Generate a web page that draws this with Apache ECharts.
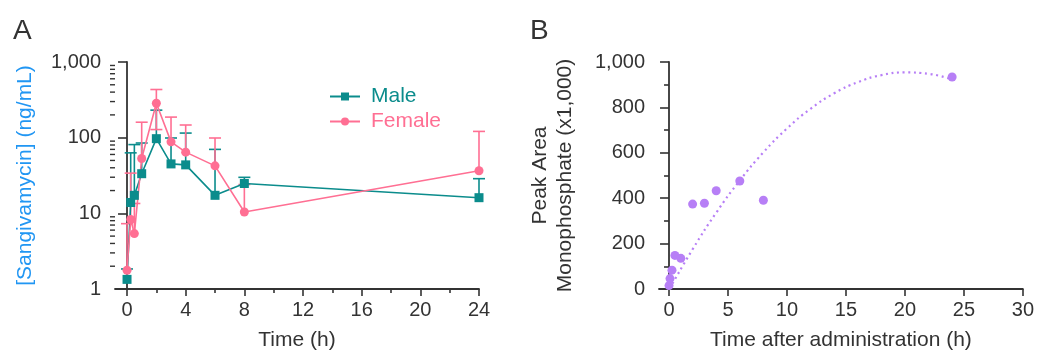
<!DOCTYPE html>
<html>
<head>
<meta charset="utf-8">
<script src="https://cdn.jsdelivr.net/npm/echarts@6/dist/echarts.min.js"></script>
<style>
  html, body { margin: 0; padding: 0; background: #fff; }
  #main { width: 1037px; height: 356px; }
</style>
</head>
<body>
<div id="main"></div>
<script>
// panel A - plasma concentration (mean + upper SD)
const TIME_H = [0, 0.25, 0.5, 1, 2, 3, 4, 6, 8, 24]
const MALE_MEAN = [1.34, 13.9, 17.3, 33.4, 97, 45, 43.7, 17.3, 24.8, 16.1]
const MALE_UPPER = [1.84, 63, 81, 85, 231, 99, 115, 70, 29.9, 28.7]
const FEMALE_MEAN = [1.77, 8.3, 5.4, 53, 285, 88, 64.4, 42.4, 10.4, 36.5]
const FEMALE_UPPER = [7.3, 34, 13.5, 160, 433, 187, 147, 99, 24, 121]
const FEMALE_LOWER = [1.77, 8.3, 5.4, 53, 128, 88, 64.4, 42.4, 10.4, 36.5]

// panel B - monophosphate peak area
const B_TIME = [0, 0.083, 0.25, 0.5, 1, 2, 3, 4, 6, 8, 24]
const B_AREA = [15, 46, 83, 148, 135, 374, 378, 433, 476, 391, 934]
const TREND_X = [0.3, 2, 4, 6, 8, 10, 12, 14, 16, 18, 20, 22, 24]
const TREND_Y = [24, 175, 336, 478, 602, 707, 794, 862, 911, 942, 954, 948, 923]

// tick labels / positions
const A_X_TICKS = [0, 4, 8, 12, 16, 20, 24]
const A_X_MINOR = [2, 6, 10, 14, 18, 22]
const A_Y_MINOR = [2, 3, 4, 5, 6, 7, 8, 9, 20, 30, 40, 50, 60, 70, 80, 90, 200, 300, 400, 500, 600, 700, 800, 900]
const B_X_TICKS = [0, 5, 10, 15, 20, 25, 30]

const TEAL = "#0B8C8C"
const PINK = "#FF6F93"
const PURPLE = "#B77FF6"
const BLUE = "#2196F3"
const INK = "#333333"
const FONT = "Liberation Sans, Arial, sans-serif"

const A_XMIN = -0.82
const B_XMIN = -0.85

const chart = echarts.init(document.getElementById("main"))

const axisLine = { show: true, lineStyle: { color: INK, width: 1.8 } }
const tickStyle = { color: INK, width: 1.6 }

// error bar: value = [t, mean, low, high]
const errorBar = color => (params, api) => {
  const t = api.value(0)
  const mean = api.value(1)
  const lo = api.value(2)
  const hi = api.value(3)
  const pLo = api.coord([t, lo])
  const pHi = api.coord([t, hi])
  const w = 6
  const style = { stroke: color, lineWidth: 1.6 }
  const children = [
    { type: "line", shape: { x1: pLo[0], y1: pLo[1], x2: pHi[0], y2: pHi[1] }, style },
    { type: "line", shape: { x1: pHi[0] - w, y1: pHi[1], x2: pHi[0] + w, y2: pHi[1] }, style },
  ]
  if (lo < mean) {
    children.push({ type: "line", shape: { x1: pLo[0] - w, y1: pLo[1], x2: pLo[0] + w, y2: pLo[1] }, style })
  }
  return { type: "group", children }
}

const option = {
  backgroundColor: "#fff",
  animation: false,
  textStyle: { fontFamily: FONT },
  title: [
    { text: "A", left: 8, top: 12, textStyle: { fontSize: 28, fontWeight: "normal", color: INK, fontFamily: FONT } },
    { text: "B", left: 525, top: 12, textStyle: { fontSize: 28, fontWeight: "normal", color: INK, fontFamily: FONT } },
  ],
  legend: {
    left: 329,
    top: 86,
    padding: 0,
    orient: "vertical",
    itemWidth: 30,
    itemHeight: 10,
    itemGap: 4,
    textStyle: { fontSize: 21, fontFamily: FONT, padding: [0, 0, 0, 6] },
    data: [
      { name: "Male", textStyle: { color: TEAL } },
      { name: "Female", textStyle: { color: PINK } },
    ],
  },
  grid: [
    { left: 115, top: 62, width: 364, height: 231 },
    { left: 659, top: 62, width: 364, height: 231 },
  ],
  xAxis: [
    {
      type: "value",
      gridIndex: 0,
      min: A_XMIN,
      max: 24,
      position: "bottom",
      name: "Time (h)",
      nameLocation: "middle",
      nameGap: 41,
      nameTextStyle: { fontSize: 21, color: INK, fontFamily: FONT },
      axisLine,
      axisTick: { show: true, length: 7, lineStyle: tickStyle, customValues: A_X_TICKS },
      axisLabel: { fontSize: 20, color: INK, margin: 11, fontFamily: FONT, customValues: A_X_TICKS },
      splitLine: { show: false },
    },
    {
      type: "value",
      gridIndex: 0,
      min: A_XMIN,
      max: 24,
      position: "bottom",
      axisLine: { show: false },
      axisTick: { show: true, length: 4, lineStyle: tickStyle, customValues: A_X_MINOR },
      axisLabel: { show: false },
      splitLine: { show: false },
    },
    {
      type: "value",
      gridIndex: 1,
      min: B_XMIN,
      max: 30,
      position: "bottom",
      name: "Time after administration (h)",
      nameLocation: "middle",
      nameGap: 41,
      nameTextStyle: { fontSize: 21, color: INK, fontFamily: FONT },
      axisLine,
      axisTick: { show: true, length: 7, lineStyle: tickStyle, customValues: B_X_TICKS },
      axisLabel: { fontSize: 20, color: INK, margin: 11, fontFamily: FONT, customValues: B_X_TICKS },
      splitLine: { show: false },
    },
  ],
  yAxis: [
    {
      type: "log",
      gridIndex: 0,
      logBase: 10,
      min: 1,
      max: 1000,
      name: "[Sangivamycin] (ng/mL)",
      nameLocation: "middle",
      nameGap: 79,
      nameTextStyle: { fontSize: 21, color: BLUE, fontFamily: FONT },
      axisLine,
      axisTick: { show: true, length: 9, lineStyle: tickStyle },
      axisLabel: {
        fontSize: 20,
        color: INK,
        margin: 14,
        fontFamily: FONT,
        formatter: v => Number(v).toLocaleString("en-US"),
      },
      splitLine: { show: false },
    },
    {
      type: "value",
      gridIndex: 1,
      min: 0,
      max: 1000,
      interval: 200,
      name: "Peak Area\nMonophosphate (x1,000)",
      nameLocation: "middle",
      nameGap: 81,
      nameTextStyle: { fontSize: 21, color: INK, lineHeight: 25, fontFamily: FONT },
      axisLine,
      axisTick: { show: true, length: 9, lineStyle: tickStyle },
      minorTick: { show: true, splitNumber: 2, length: 5, lineStyle: tickStyle },
      axisLabel: {
        fontSize: 20,
        color: INK,
        margin: 14,
        fontFamily: FONT,
        formatter: v => Number(v).toLocaleString("en-US"),
      },
      splitLine: { show: false },
    },
  ],
  series: [
    {
      // log minor ticks on panel A y axis
      name: "minorTicks",
      type: "custom",
      xAxisIndex: 0,
      yAxisIndex: 0,
      silent: true,
      clip: false,
      data: A_Y_MINOR.map(v => [A_XMIN, v]),
      renderItem: (params, api) => {
        const p = api.coord([api.value(0), api.value(1)])
        return {
          type: "line",
          shape: { x1: p[0] - 5, y1: p[1], x2: p[0], y2: p[1] },
          style: { stroke: INK, lineWidth: 1.4 },
        }
      },
    },
    {
      name: "Male SD",
      type: "custom",
      xAxisIndex: 0,
      yAxisIndex: 0,
      z: 1,
      data: TIME_H.map((t, i) => [t, MALE_MEAN[i], MALE_MEAN[i], MALE_UPPER[i]]),
      renderItem: errorBar(TEAL),
    },
    {
      name: "Female SD",
      type: "custom",
      xAxisIndex: 0,
      yAxisIndex: 0,
      z: 1,
      data: TIME_H.map((t, i) => [t, FEMALE_MEAN[i], FEMALE_LOWER[i], FEMALE_UPPER[i]]),
      renderItem: errorBar(PINK),
    },
    {
      name: "Male",
      type: "line",
      xAxisIndex: 0,
      yAxisIndex: 0,
      z: 3,
      data: TIME_H.map((t, i) => [t, MALE_MEAN[i]]),
      symbol: "rect",
      symbolSize: 9,
      color: TEAL,
      lineStyle: { width: 1.6, color: TEAL },
      itemStyle: { color: TEAL },
    },
    {
      name: "Female",
      type: "line",
      xAxisIndex: 0,
      yAxisIndex: 0,
      z: 3,
      data: TIME_H.map((t, i) => [t, FEMALE_MEAN[i]]),
      symbol: "circle",
      symbolSize: 9,
      color: PINK,
      lineStyle: { width: 1.6, color: PINK },
      itemStyle: { color: PINK },
    },
    {
      name: "trend",
      type: "line",
      xAxisIndex: 2,
      yAxisIndex: 1,
      data: TREND_X.map((x, i) => [x, TREND_Y[i]]),
      smooth: true,
      showSymbol: false,
      symbol: "none",
      lineStyle: { color: PURPLE, width: 2.2, type: [2, 3.6] },
    },
    {
      name: "Monophosphate",
      type: "scatter",
      xAxisIndex: 2,
      yAxisIndex: 1,
      z: 3,
      data: B_TIME.map((t, i) => [t, B_AREA[i]]),
      symbolSize: 9,
      itemStyle: { color: PURPLE, opacity: 1 },
    },
  ],
}

option && chart.setOption(option)
</script>
</body>
</html>
